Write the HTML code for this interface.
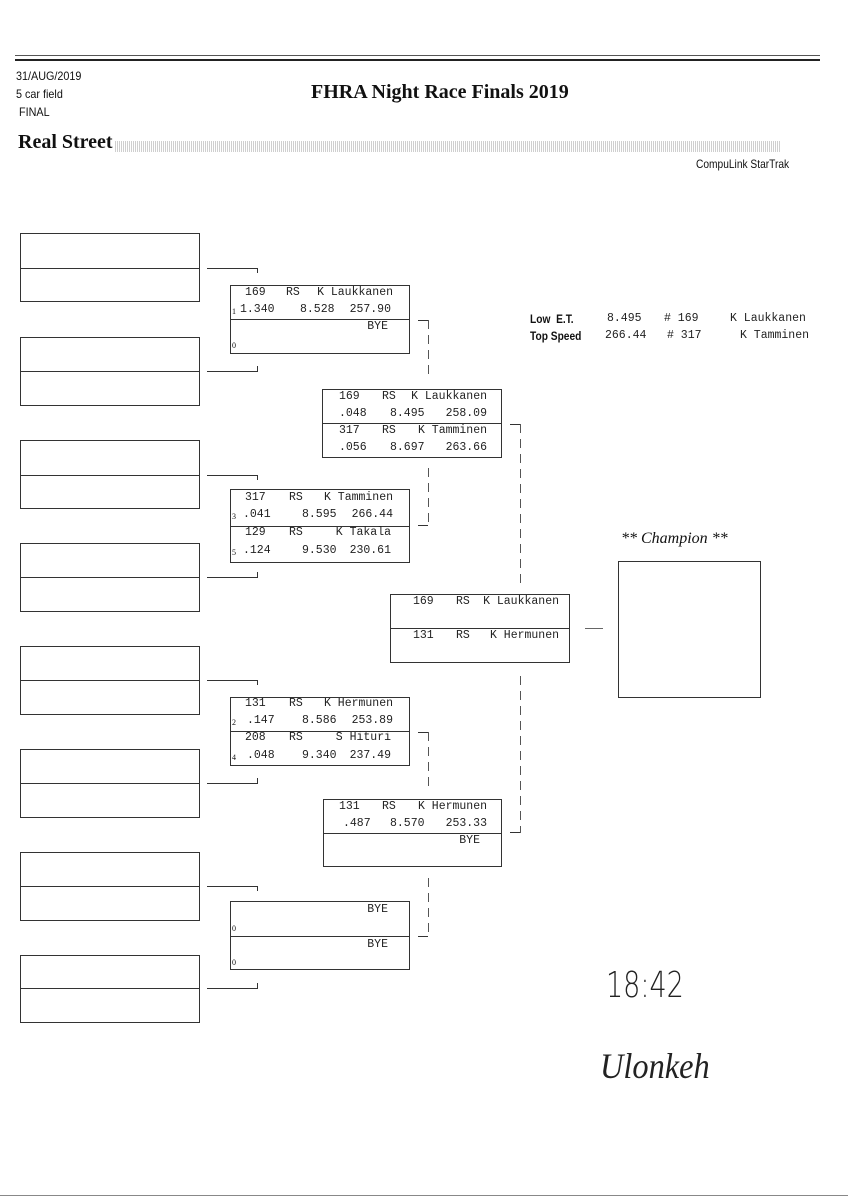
<!DOCTYPE html>
<html><head><meta charset="utf-8"><style>
body{margin:0;background:#fff;}
#p{position:relative;width:848px;height:1200px;overflow:hidden;background:#fff;color:#111;}
.a{position:absolute;}
.b{position:absolute;border:1px solid #333;box-sizing:border-box;}
.h{position:absolute;height:1px;background:#333;}
.v{position:absolute;width:1px;background:repeating-linear-gradient(180deg,#555 0 9px,transparent 9px 15px);}
.vs{position:absolute;width:1px;background:#333;}
.m{position:absolute;font-family:"Liberation Mono",monospace;font-size:11.5px;line-height:14px;white-space:nowrap;color:#222;}
.r{position:absolute;font-family:"Liberation Mono",monospace;font-size:11.5px;line-height:14px;white-space:nowrap;color:#222;text-align:right;width:120px;}
.s{position:absolute;font-family:"Liberation Serif",serif;font-size:8px;line-height:10px;}
.sans{font-family:"Liberation Sans",sans-serif;}
</style></head><body><div id="p">
<div class="h" style="left:15px;top:55px;width:805px;height:1px;background:#555"></div>
<div class="h" style="left:15px;top:59px;width:805px;height:2px;background:#222"></div>
<div class="a sans" style="left:16px;top:67px;font-size:12px;line-height:18px;transform:scaleX(0.9);transform-origin:left">31/AUG/2019<br>5 car field<br>&nbsp;FINAL</div>
<div class="a" style="left:311px;top:81px;font-family:'Liberation Serif',serif;font-weight:bold;font-size:20px;">FHRA Night Race Finals 2019</div>
<div class="a" style="left:18px;top:131px;font-family:'Liberation Serif',serif;font-weight:bold;font-size:20px;">Real Street</div>
<div class="a" style="left:115px;top:141px;width:666px;height:11px;background:repeating-linear-gradient(90deg,#bbb 0 1px,#fff 1px 2px),#ddd;opacity:.7"></div>
<div class="a sans" style="left:696px;top:157px;font-size:12px;transform:scaleX(0.85);transform-origin:left">CompuLink StarTrak</div>

<div class="b" style="left:20px;top:233px;width:180px;height:69px"></div><div class="h" style="left:20px;top:268px;width:180px"></div>
<div class="b" style="left:20px;top:337px;width:180px;height:69px"></div><div class="h" style="left:20px;top:371px;width:180px"></div>
<div class="b" style="left:20px;top:440px;width:180px;height:69px"></div><div class="h" style="left:20px;top:475px;width:180px"></div>
<div class="b" style="left:20px;top:543px;width:180px;height:69px"></div><div class="h" style="left:20px;top:577px;width:180px"></div>
<div class="b" style="left:20px;top:646px;width:180px;height:69px"></div><div class="h" style="left:20px;top:680px;width:180px"></div>
<div class="b" style="left:20px;top:749px;width:180px;height:69px"></div><div class="h" style="left:20px;top:783px;width:180px"></div>
<div class="b" style="left:20px;top:852px;width:180px;height:69px"></div><div class="h" style="left:20px;top:886px;width:180px"></div>
<div class="b" style="left:20px;top:955px;width:180px;height:68px"></div><div class="h" style="left:20px;top:988px;width:180px"></div>

<div class="h" style="left:207px;top:268px;width:51px"></div><div class="vs" style="left:257px;top:268px;height:5px"></div>
<div class="h" style="left:207px;top:371px;width:51px"></div><div class="vs" style="left:257px;top:366px;height:5px"></div>
<div class="h" style="left:207px;top:475px;width:51px"></div><div class="vs" style="left:257px;top:475px;height:5px"></div>
<div class="h" style="left:207px;top:577px;width:51px"></div><div class="vs" style="left:257px;top:572px;height:5px"></div>
<div class="h" style="left:207px;top:680px;width:51px"></div><div class="vs" style="left:257px;top:680px;height:5px"></div>
<div class="h" style="left:207px;top:783px;width:51px"></div><div class="vs" style="left:257px;top:778px;height:5px"></div>
<div class="h" style="left:207px;top:886px;width:51px"></div><div class="vs" style="left:257px;top:886px;height:5px"></div>
<div class="h" style="left:207px;top:988px;width:51px"></div><div class="vs" style="left:257px;top:983px;height:5px"></div>

<div class="b" style="left:230px;top:285px;width:180px;height:69px"></div><div class="h" style="left:230px;top:319px;width:180px"></div>
<div class="m" style="left:245px;top:286px">169</div><div class="m" style="left:286px;top:286px">RS</div><div class="r" style="left:273px;top:286px">K Laukkanen</div>
<div class="s" style="left:232px;top:307px">1</div><div class="m" style="left:240px;top:303px">1.340</div><div class="m" style="left:300px;top:303px">8.528</div><div class="r" style="left:271px;top:303px">257.90</div>
<div class="r" style="left:268px;top:320px">BYE</div>
<div class="s" style="left:232px;top:341px">0</div>

<div class="b" style="left:230px;top:489px;width:180px;height:74px"></div><div class="h" style="left:230px;top:526px;width:180px"></div>
<div class="m" style="left:245px;top:491px">317</div><div class="m" style="left:289px;top:491px">RS</div><div class="r" style="left:273px;top:491px">K Tamminen</div>
<div class="s" style="left:232px;top:512px">3</div><div class="m" style="left:243px;top:508px">.041</div><div class="m" style="left:302px;top:508px">8.595</div><div class="r" style="left:273px;top:508px">266.44</div>
<div class="m" style="left:245px;top:526px">129</div><div class="m" style="left:289px;top:526px">RS</div><div class="r" style="left:271px;top:526px">K Takala</div>
<div class="s" style="left:232px;top:548px">5</div><div class="m" style="left:243px;top:544px">.124</div><div class="m" style="left:302px;top:544px">9.530</div><div class="r" style="left:271px;top:544px">230.61</div>

<div class="b" style="left:230px;top:697px;width:180px;height:69px"></div><div class="h" style="left:230px;top:731px;width:180px"></div>
<div class="m" style="left:245px;top:697px">131</div><div class="m" style="left:289px;top:697px">RS</div><div class="r" style="left:273px;top:697px">K Hermunen</div>
<div class="s" style="left:232px;top:718px">2</div><div class="m" style="left:247px;top:714px">.147</div><div class="m" style="left:302px;top:714px">8.586</div><div class="r" style="left:273px;top:714px">253.89</div>
<div class="m" style="left:245px;top:731px">208</div><div class="m" style="left:289px;top:731px">RS</div><div class="r" style="left:271px;top:731px">S Hituri</div>
<div class="s" style="left:232px;top:753px">4</div><div class="m" style="left:247px;top:749px">.048</div><div class="m" style="left:302px;top:749px">9.340</div><div class="r" style="left:271px;top:749px">237.49</div>

<div class="b" style="left:230px;top:901px;width:180px;height:69px"></div><div class="h" style="left:230px;top:936px;width:180px"></div>
<div class="r" style="left:268px;top:903px">BYE</div><div class="s" style="left:232px;top:924px">0</div>
<div class="r" style="left:268px;top:938px">BYE</div><div class="s" style="left:232px;top:958px">0</div>

<div class="h" style="left:418px;top:320px;width:10px"></div><div class="v" style="left:428px;top:320px;height:60px"></div>
<div class="v" style="left:428px;top:468px;height:58px"></div><div class="h" style="left:418px;top:525px;width:10px"></div>
<div class="h" style="left:418px;top:732px;width:10px"></div><div class="v" style="left:428px;top:732px;height:58px"></div>
<div class="v" style="left:428px;top:878px;height:58px"></div><div class="h" style="left:418px;top:936px;width:10px"></div>

<div class="b" style="left:322px;top:389px;width:180px;height:69px"></div><div class="h" style="left:322px;top:423px;width:180px"></div>
<div class="m" style="left:339px;top:390px">169</div><div class="m" style="left:382px;top:390px">RS</div><div class="r" style="left:367px;top:390px">K Laukkanen</div>
<div class="m" style="left:339px;top:407px">.048</div><div class="m" style="left:390px;top:407px">8.495</div><div class="r" style="left:367px;top:407px">258.09</div>
<div class="m" style="left:339px;top:424px">317</div><div class="m" style="left:382px;top:424px">RS</div><div class="r" style="left:367px;top:424px">K Tamminen</div>
<div class="m" style="left:339px;top:441px">.056</div><div class="m" style="left:390px;top:441px">8.697</div><div class="r" style="left:367px;top:441px">263.66</div>

<div class="b" style="left:323px;top:799px;width:179px;height:68px"></div><div class="h" style="left:323px;top:833px;width:179px"></div>
<div class="m" style="left:339px;top:800px">131</div><div class="m" style="left:382px;top:800px">RS</div><div class="r" style="left:367px;top:800px">K Hermunen</div>
<div class="m" style="left:343px;top:817px">.487</div><div class="m" style="left:390px;top:817px">8.570</div><div class="r" style="left:367px;top:817px">253.33</div>
<div class="r" style="left:360px;top:834px">BYE</div>

<div class="h" style="left:510px;top:424px;width:10px"></div><div class="v" style="left:520px;top:424px;height:160px"></div>
<div class="v" style="left:520px;top:676px;height:157px"></div><div class="h" style="left:510px;top:832px;width:10px"></div>

<div class="b" style="left:390px;top:594px;width:180px;height:69px"></div><div class="h" style="left:390px;top:628px;width:180px"></div>
<div class="m" style="left:413px;top:595px">169</div><div class="m" style="left:456px;top:595px">RS</div><div class="r" style="left:439px;top:595px">K Laukkanen</div>
<div class="m" style="left:413px;top:629px">131</div><div class="m" style="left:456px;top:629px">RS</div><div class="r" style="left:439px;top:629px">K Hermunen</div>
<div class="h" style="left:585px;top:628px;width:18px;background:#666"></div>

<div class="a" style="left:621px;top:530px;font-family:'Liberation Serif',serif;font-style:italic;font-size:16px">** Champion **</div>
<div class="b" style="left:618px;top:561px;width:143px;height:137px"></div>

<div class="a sans" style="left:530px;top:311px;font-size:12px;font-weight:bold;line-height:17px;transform:scaleX(0.85);transform-origin:left">Low&nbsp;&nbsp;E.T.<br>Top Speed</div>
<div class="m" style="left:607px;top:312px">8.495</div><div class="m" style="left:664px;top:312px"># 169</div><div class="m" style="left:730px;top:312px">K Laukkanen</div>
<div class="m" style="left:605px;top:329px">266.44</div><div class="m" style="left:667px;top:329px"># 317</div><div class="m" style="left:740px;top:329px">K Tamminen</div>

<div class="a" style="left:606px;top:965px;font-family:'DejaVu Sans',sans-serif;font-weight:200;font-size:36px;transform:scaleX(0.75);transform-origin:left;color:#222">18:42</div>
<div class="a" style="left:600px;top:1045px;font-family:'Liberation Serif',serif;font-style:italic;font-size:36px;color:#222;transform:scaleX(0.9);transform-origin:left">Ulonkeh</div>

<div class="h" style="left:0;top:1195px;width:848px;background:#888"></div>
</div></body></html>
